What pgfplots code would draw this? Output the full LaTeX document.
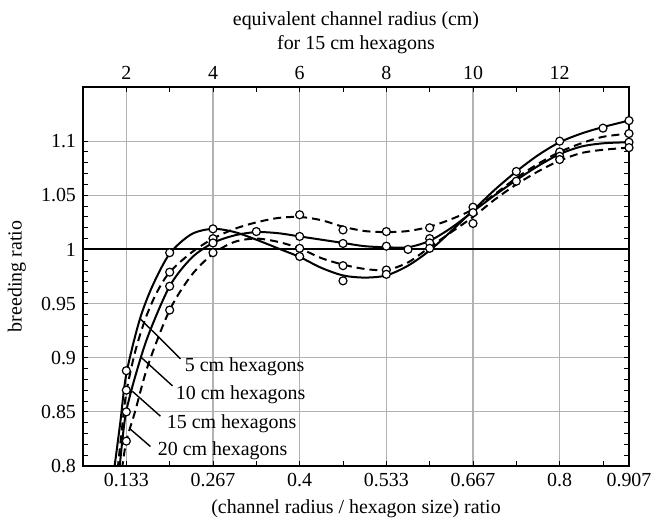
\documentclass[border=0pt]{standalone}
\usepackage{fontspec}
\setmainfont{Liberation Serif}
\usepackage{pgfplots}
\pgfplotsset{compat=1.18}
\usepackage{pgfplotstable}

% x in equivalent channel radius (cm) for 15 cm hexagons; ratio = x/15
\pgfplotstableread{
x y
1.72 0.797
1.86 0.840
2.0 0.885
2.3 0.934
2.6 0.966
3.0 0.996
3.5 1.014
4.0 1.019
4.5 1.016
5.0 1.009
5.5 1.001
6.0 0.993
6.5 0.983
7.0 0.976
7.5 0.974
8.0 0.976
8.5 0.985
9.0 0.999
9.5 1.017
10.0 1.036
10.5 1.055
11.0 1.072
11.5 1.087
12.0 1.099
12.5 1.107
13.0 1.113
13.6 1.119
}\hexfive

\pgfplotstableread{
x y
1.80 0.797
1.9 0.835
2.0 0.868
2.2 0.905
2.44 0.936
2.7 0.960
3.0 0.979
3.5 0.997
4.0 1.010
4.5 1.019
5.0 1.025
5.5 1.029
6.0 1.030
6.5 1.027
7.0 1.021
7.5 1.017
8.0 1.016
8.5 1.017
9.0 1.021
9.5 1.028
10.0 1.037
10.5 1.051
11.0 1.066
11.5 1.079
12.0 1.090
12.5 1.098
13.0 1.104
13.6 1.107
}\hexten

\pgfplotstableread{
x y
1.84 0.797
1.92 0.828
2.0 0.851
2.2 0.882
2.5 0.920
3.0 0.966
3.5 0.992
4.0 1.006
4.5 1.013
5.0 1.016
5.5 1.015
6.0 1.012
6.5 1.009
7.0 1.006
7.5 1.003
8.0 1.002
8.5 1.002
9.0 1.008
9.5 1.020
10.0 1.035
10.5 1.050
11.0 1.064
11.5 1.077
12.0 1.088
12.5 1.095
13.0 1.098
13.6 1.099
}\hexfifteen

\pgfplotstableread{
x y
1.90 0.797
2.0 0.823
2.2 0.850
2.5 0.893
3.0 0.944
3.5 0.976
4.0 0.996
4.5 1.007
5.0 1.010
5.5 1.007
6.0 1.001
6.5 0.992
7.0 0.986
7.5 0.982
8.0 0.981
8.5 0.988
9.0 1.002
9.5 1.016
10.0 1.030
10.5 1.046
11.0 1.060
11.5 1.072
12.0 1.082
12.5 1.089
13.0 1.092
13.6 1.094
}\hextwenty

% computed breeding ratios
\pgfplotstableread{
x y
2 0.888
2 0.870
2 0.850
2 0.823
3 0.997
3 0.979
3 0.966
3 0.944
4 1.019
4 1.010
4 1.006
4 0.997
5 1.0165
6 1.032
6 1.012
6 1.001
6 0.9935
7 1.018
7 1.0055
7 0.985
7 0.971
8 1.0165
8 1.003
8 0.981
8 0.977
8.5 1.000
9 1.020
9 1.010
9 1.006
9 1.001
10 1.039
10 1.034
10 1.024
11 1.072
11 1.063
12 1.100
12 1.090
12 1.086
12 1.083
13 1.112
13.6 1.119
13.6 1.107
13.6 1.099
13.6 1.094
}\computed

\begin{document}
\begin{tikzpicture}
\pgfplotsset{
  common/.style={
    scale only axis, width=273bp, height=189.5bp,
    at={(41.5bp,29.5bp)}, anchor=south west,
    xmin=1, xmax=13.6, ymin=0.8, ymax=1.15,
    /pgf/number format/assume math mode=true,
    tick label style={font=\fontsize{10}{12}\selectfont},
    label style={font=\fontsize{10}{12}\selectfont},
    major tick length=2.5bp, minor tick length=2.5bp,
    tick style={black, line width=0.5bp},
  },
  curve/.style={black, line width=1bp, smooth, tension=0.5},
  dashedcurve/.style={curve, dash pattern=on 4bp off 2.5bp},
}
\begin{axis}[common,
  axis line style={line width=1bp},
  xtick={2,4,6,8,10,12,13.6},
  xticklabels={0.133,0.267,0.4,0.533,0.667,0.8,0.907},
  minor xtick={3,5,7,9,11,13},
  xtick pos=left,
  ytick={0.8,0.85,0.9,0.95,1,1.05,1.1},
  yticklabels={0.8,0.85,0.9,0.95,1,1.05,1.1},
  minor y tick num=4,
  ytick pos=both, yticklabel pos=left,
  grid=major,
  major grid style={gray!60, line width=0.6bp},
  every axis x label/.style={at={(axis description cs:0.5,-0.113)}, anchor=center},
  every axis y label/.style={at={(axis description cs:-0.121,0.5)}, rotate=90, anchor=center},
  xlabel={(channel radius / hexagon size) ratio},
  ylabel={breeding ratio},
]
\addplot[black, line width=1bp] coordinates {(1,1) (13.6,1)};
\addplot[curve] table {\hexfive};
\addplot[dashedcurve] table {\hexten};
\addplot[curve] table {\hexfifteen};
\addplot[dashedcurve] table {\hextwenty};
\addplot[only marks, mark=*, mark size=2bp,
  mark options={fill=white, draw=black, line width=0.6bp, solid}] table {\computed};

\draw[line width=0.7bp] (axis cs:2.324,0.9358) -- (axis cs:3.25,0.899);
\draw[line width=0.7bp] (axis cs:2.324,0.901) -- (axis cs:3.065,0.874);
\draw[line width=0.7bp] (axis cs:2.139,0.869) -- (axis cs:2.787,0.846);
\draw[line width=0.7bp] (axis cs:2.093,0.834) -- (axis cs:2.556,0.818);
\begin{scope}[every node/.style={anchor=west, inner sep=0pt, font=\fontsize{10}{12}\selectfont}]
\node at (axis cs:3.343,0.892) {5 cm hexagons};
\node at (axis cs:3.134,0.866) {10 cm hexagons};
\node at (axis cs:2.926,0.839) {15 cm hexagons};
\node at (axis cs:2.718,0.814) {20 cm hexagons};
\end{scope}
\end{axis}

\begin{axis}[common,
  axis x line*=top, axis y line=none,
  x axis line style={-, line width=1bp},
  xtick={2,4,6,8,10,12},
  minor xtick={3,5,7,9,11,13},
  every axis x label/.style={at={(axis description cs:0.5,1.142)}, anchor=center, align=center},
  xlabel={equivalent channel radius (cm)\\for 15 cm hexagons},
]
\end{axis}

\pgfresetboundingbox
\path[use as bounding box] (0,0) rectangle (330.5bp,262.5bp);
\end{tikzpicture}
\end{document}
